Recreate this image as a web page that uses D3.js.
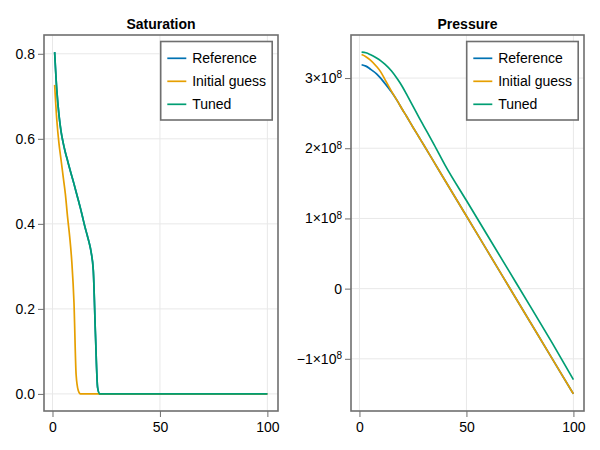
<!DOCTYPE html>
<html>
<head>
<meta charset="utf-8">
<script src="https://cdn.jsdelivr.net/npm/d3@7"></script>
<style>
  html, body { margin: 0; padding: 0; background: #fff; }
  svg { display: block; font-family: "Liberation Sans", Arial, Helvetica, sans-serif; }
</style>
</head>
<body>
<svg id="chart" width="600" height="450"></svg>
<script>
// ---------------- data ----------------
const seriesNames = ["Reference", "Initial guess", "Tuned"];
const seriesColors = ["#0072B2", "#E69F00", "#009E73"];

// Saturation, per cell
const satCells     = [1, 2, 3, 4, 5, 6, 7, 8, 9, 10, 11, 12, 13, 14, 15, 16, 17, 18, 19, 20, 21, 22, 100];
const satReference = [0.804, 0.715, 0.657, 0.617, 0.59, 0.568, 0.549, 0.53, 0.512, 0.494, 0.475, 0.456, 0.437, 0.416, 0.395, 0.376, 0.357, 0.333, 0.29, 0.14, 0.015, 0, 0];
const satInitial   = [0.727, 0.645, 0.59, 0.55, 0.51, 0.47, 0.417, 0.37, 0.31, 0.215, 0.045, 0.008, 0, 0, 0, 0, 0, 0, 0, 0, 0, 0, 0];
const satTuned     = [0.804, 0.715, 0.657, 0.617, 0.59, 0.568, 0.549, 0.53, 0.512, 0.494, 0.475, 0.456, 0.437, 0.416, 0.395, 0.376, 0.357, 0.333, 0.29, 0.14, 0.015, 0, 0];
const satTicksX = [0, 50, 100];
const satTicksY = [0.0, 0.2, 0.4, 0.6, 0.8];
const satTickLabelsY = ["0.0", "0.2", "0.4", "0.6", "0.8"];

// Pressure, per cell (units of 1e8)
const presCells     = [1, 3, 5, 8, 10, 12, 15, 18, 20, 22, 25, 28, 30, 35, 40, 50, 60, 70, 80, 90, 100];
const presReference = [3.19, 3.17, 3.13, 3.06, 2.995, 2.92, 2.80, 2.66, 2.555, 2.455, 2.30, 2.15, 2.05, 1.795, 1.54, 1.035, 0.527, 0.02, -0.487, -0.994, -1.50];
const presInitial   = [3.335, 3.305, 3.26, 3.165, 3.085, 2.975, 2.81, 2.66, 2.555, 2.455, 2.30, 2.15, 2.05, 1.795, 1.54, 1.035, 0.527, 0.02, -0.487, -0.994, -1.50];
const presTuned     = [3.37, 3.36, 3.335, 3.285, 3.245, 3.195, 3.10, 2.975, 2.88, 2.77, 2.60, 2.43, 2.32, 2.045, 1.76, 1.255, 0.75, 0.245, -0.26, -0.77, -1.296];
const presTicksX = [0, 50, 100];
const presTicksY = [-1, 0, 1, 2, 3];
const presTickLabelsY = [["−1", "8"], ["0", null], ["1", "8"], ["2", "8"], ["3", "8"]];

// ---------------- drawing ----------------
const svg = d3.select("#chart");
const frameColor = "#6f6f6f";
const gridColor = "#e8e8e8";
const fontSize = 14;

function padDomain(vals) {
  const [a, b] = d3.extent(vals);
  const m = (b - a) * 0.05;
  return [a - m, b + m];
}

function drawPanel(p) {
  const g = svg.append("g");
  const x = d3.scaleLinear().domain(padDomain(p.cells)).range([p.left, p.right]);
  const allY = [].concat(...p.series);
  const y = d3.scaleLinear().domain(padDomain(allY)).range([p.bottom, p.top]);

  // grid
  g.append("g").selectAll("line").data(p.ticksX).join("line")
    .attr("x1", d => x(d)).attr("x2", d => x(d))
    .attr("y1", p.top).attr("y2", p.bottom)
    .attr("stroke", gridColor).attr("stroke-width", 1);
  g.append("g").selectAll("line").data(p.ticksY).join("line")
    .attr("x1", p.left).attr("x2", p.right)
    .attr("y1", d => y(d)).attr("y2", d => y(d))
    .attr("stroke", gridColor).attr("stroke-width", 1);

  // lines
  const clipId = "clip" + p.id;
  svg.append("clipPath").attr("id", clipId).append("rect")
    .attr("x", p.left).attr("y", p.top).attr("width", p.right - p.left).attr("height", p.bottom - p.top);
  const line = d3.line().x(d => x(d[0])).y(d => y(d[1])).curve(d3.curveMonotoneX);
  p.series.forEach((vals, i) => {
    g.append("path")
      .datum(p.cells.map((c, k) => [c, vals[k]]))
      .attr("d", line)
      .attr("fill", "none")
      .attr("stroke", seriesColors[i])
      .attr("stroke-width", 1.7)
      .attr("stroke-linejoin", "round")
      .attr("clip-path", `url(#${clipId})`);
  });

  // axes (ticks + labels)
  const xAxis = d3.axisBottom(x).tickValues(p.ticksX).tickSize(6).tickPadding(5).tickFormat(d3.format("d"));
  const gx = g.append("g").attr("transform", `translate(0,${p.bottom})`).call(xAxis);
  gx.select(".domain").remove();
  gx.selectAll(".tick line").attr("stroke", frameColor).attr("stroke-width", 1);
  gx.selectAll(".tick text").attr("font-size", fontSize).attr("fill", "#000")
    .attr("font-family", "Liberation Sans, Arial, sans-serif");

  const yAxis = d3.axisLeft(y).tickValues(p.ticksY).tickSize(6).tickPadding(4).tickFormat(() => "");
  const gy = g.append("g").attr("transform", `translate(${p.left},0)`).call(yAxis);
  gy.select(".domain").remove();
  gy.selectAll(".tick line").attr("stroke", frameColor).attr("stroke-width", 1);
  gy.selectAll(".tick text").remove();
  p.ticksY.forEach((v, i) => {
    const t = g.append("text")
      .attr("x", p.left - 9).attr("y", y(v)).attr("dy", "0.35em")
      .attr("text-anchor", "end").attr("font-size", fontSize).attr("fill", "#000");
    const lab = p.labelsY[i];
    if (Array.isArray(lab)) {
      if (lab[1] === null) {
        t.text(lab[0]);
      } else {
        t.append("tspan").text(lab[0] + "×10");
        t.append("tspan").attr("dy", "-0.45em").attr("font-size", 10).text(lab[1]);
      }
    } else {
      t.text(lab);
    }
  });

  // frame
  g.append("rect")
    .attr("x", p.left).attr("y", p.top)
    .attr("width", p.right - p.left).attr("height", p.bottom - p.top)
    .attr("fill", "none").attr("stroke", frameColor).attr("stroke-width", 1.6);

  // title
  g.append("text")
    .attr("x", (p.left + p.right) / 2).attr("y", p.top - 6)
    .attr("text-anchor", "middle").attr("font-size", fontSize).attr("font-weight", "bold")
    .attr("fill", "#000").text(p.title);

  // legend
  const lg = g.append("g");
  lg.append("rect")
    .attr("x", p.legendX).attr("y", p.top + 6.5)
    .attr("width", 111.5).attr("height", 78.5)
    .attr("fill", "#fff").attr("stroke", frameColor).attr("stroke-width", 1.6);
  seriesNames.forEach((name, i) => {
    const yy = p.top + 23.3 + i * 23;
    lg.append("line")
      .attr("x1", p.legendX + 6.6).attr("x2", p.legendX + 25.6)
      .attr("y1", yy).attr("y2", yy)
      .attr("stroke", seriesColors[i]).attr("stroke-width", 1.7);
    lg.append("text")
      .attr("x", p.legendX + 31.5).attr("y", yy).attr("dy", "0.35em")
      .attr("font-size", fontSize).attr("fill", "#000").text(name);
  });
}

drawPanel({
  id: "sat", title: "Saturation",
  left: 44, right: 278, top: 35, bottom: 411,
  cells: satCells, series: [satReference, satInitial, satTuned],
  ticksX: satTicksX, ticksY: satTicksY, labelsY: satTickLabelsY,
  legendX: 160.7
});

drawPanel({
  id: "pres", title: "Pressure",
  left: 351, right: 584, top: 35, bottom: 411,
  cells: presCells, series: [presReference, presInitial, presTuned],
  ticksX: presTicksX, ticksY: presTicksY, labelsY: presTickLabelsY,
  legendX: 466.7
});
</script>
</body>
</html>
